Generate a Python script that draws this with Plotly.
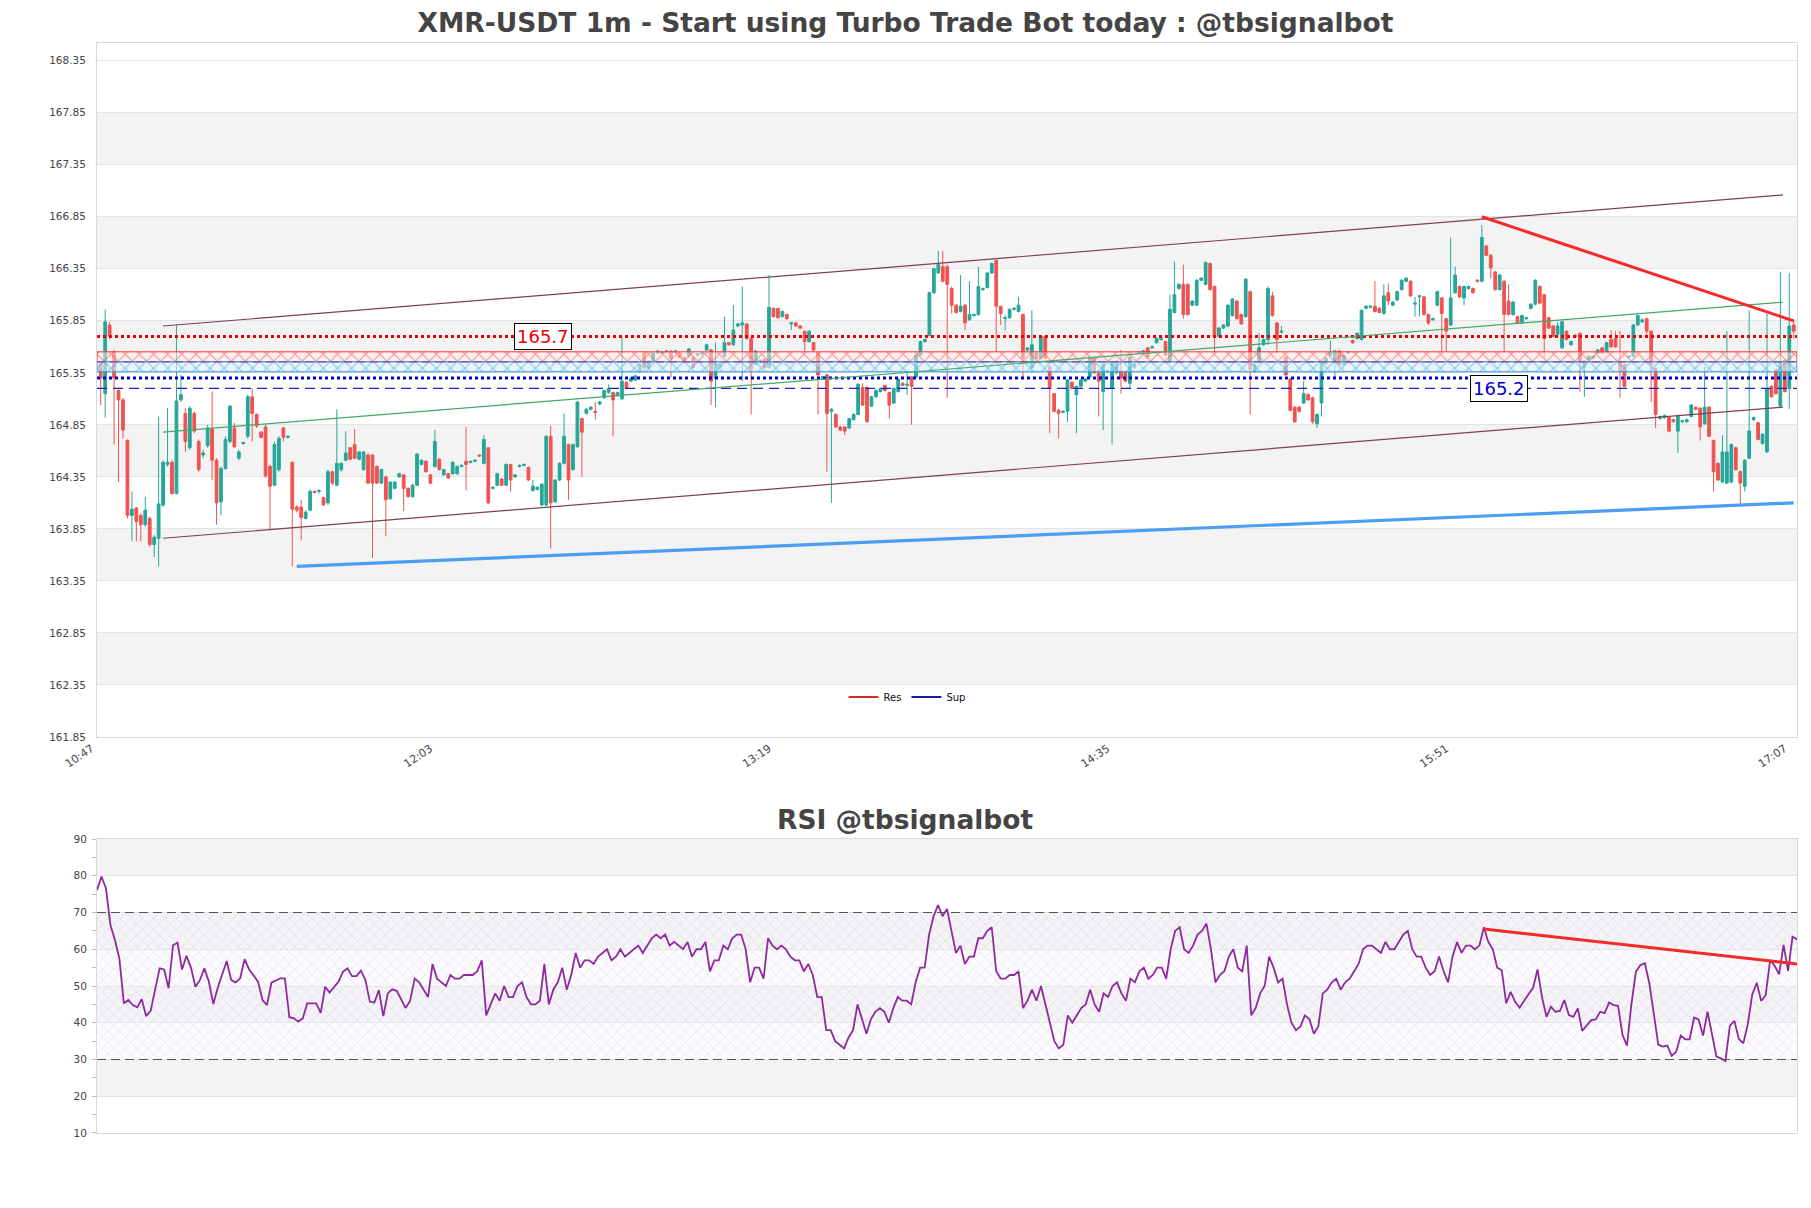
import pandas as pd
import plotly.graph_objects as go

# ---------------- data ----------------
opens = [
    165.44, 165.15, 165.81, 165.55, 165.18, 165.09, 164.70, 163.98, 164.05, 163.98,
    163.89, 163.95, 163.70, 163.76, 164.08, 164.47, 164.49, 164.19, 165.09, 164.96,
    164.63, 164.96, 164.69, 164.56, 164.65, 164.81, 164.51, 164.11, 164.43, 164.69,
    164.82, 164.53, 164.67, 164.74, 165.12, 164.95, 164.78, 164.83, 164.45, 164.27,
    164.42, 164.82, 164.73, 164.49, 164.06, 164.06, 163.95, 164.03, 164.21, 164.21,
    164.15, 164.10, 164.40, 164.27, 164.42, 164.51, 164.63, 164.66, 164.52, 164.42,
    164.56, 164.56, 164.45, 164.29, 164.35, 164.14, 164.24, 164.35, 164.37, 164.24,
    164.16, 164.27, 164.47, 164.50, 164.37, 164.45, 164.52, 164.37, 164.38, 164.38,
    164.38, 164.45, 164.50, 164.49, 164.50, 164.56, 164.48, 164.63, 164.24, 164.27,
    164.33, 164.27, 164.47, 164.35, 164.45, 164.46, 164.44, 164.22, 164.23, 164.08,
    164.08, 164.74, 164.11, 164.32, 164.48, 164.66, 164.42, 164.64, 164.91, 164.96,
    165.00, 164.98, 165.05, 165.11, 165.16, 165.16, 165.13, 165.10, 165.26, 165.27,
    165.28, 165.36, 165.54, 165.40, 165.46, 165.54, 165.54, 165.55, 165.56, 165.55,
    165.54, 165.50, 165.51, 165.50, 165.52, 165.53, 165.57, 165.57, 165.30, 165.41,
    165.51, 165.64, 165.62, 165.80, 165.81, 165.82, 165.68, 165.43, 165.45, 165.48,
    165.40, 165.97, 165.97, 165.89, 165.91, 165.82, 165.83, 165.80, 165.75, 165.65,
    165.64, 165.54, 165.30, 165.33, 164.98, 164.95, 164.83, 164.83, 164.82, 164.90,
    164.95, 165.21, 165.21, 165.03, 165.12, 165.17, 165.23, 165.16, 165.06, 165.17,
    165.25, 165.23, 165.31, 165.31, 165.52, 165.65, 165.71, 166.12, 166.31, 166.37,
    166.37, 166.16, 166.00, 165.94, 166.00, 165.86, 165.90, 165.91, 166.15, 166.17,
    166.31, 166.43, 165.99, 165.87, 165.88, 165.96, 165.94, 165.91, 165.57, 165.40,
    165.54, 165.49, 165.70, 165.41, 165.15, 164.99, 164.97, 164.98, 165.26, 165.14,
    165.22, 165.27, 165.31, 165.50, 165.35, 165.17, 165.36, 165.20, 165.35, 165.37,
    165.36, 165.25, 165.40, 165.54, 165.55, 165.59, 165.59, 165.64, 165.67, 165.65,
    165.46, 165.93, 166.16, 166.20, 166.20, 166.00, 166.00, 166.24, 166.20, 166.40,
    166.18, 165.70, 165.78, 165.80, 165.90, 166.04, 165.91, 165.89, 166.13, 165.36,
    165.46, 165.62, 165.67, 166.09, 165.83, 165.74, 165.50, 165.29, 165.02, 165.02,
    165.06, 165.14, 165.11, 164.86, 165.06, 165.44, 165.52, 165.46, 165.56, 165.43,
    165.54, 165.66, 165.68, 165.67, 165.97, 165.98, 165.99, 165.97, 165.92, 166.12,
    166.00, 166.05, 166.15, 166.23, 166.23, 166.01, 166.08, 166.08, 165.91, 165.86,
    166.00, 166.07, 165.87, 165.81, 166.12, 166.18, 166.07, 166.16, 166.16, 166.24,
    166.23, 166.57, 166.48, 166.32, 166.15, 166.23, 166.04, 165.91, 165.89, 165.83,
    165.87, 165.97, 166.01, 166.18, 166.10, 165.88, 165.80, 165.72, 165.59, 165.75,
    165.62, 165.70, 165.73, 165.40, 165.48, 165.49, 165.54, 165.59, 165.55, 165.67,
    165.68, 165.46, 165.43, 165.50, 165.51, 165.81, 165.84, 165.87, 165.75, 165.39,
    164.91, 164.92, 164.92, 164.90, 164.79, 164.88, 164.88, 164.93, 165.02, 165.01,
    164.86, 165.02, 164.70, 164.48, 164.30, 164.29, 164.30, 164.63, 164.40, 164.26,
    164.53, 164.90, 164.87, 164.67, 164.59, 165.22, 165.38, 165.03, 165.47, 165.20, 165.81,
]
highs = [
    165.46, 165.96, 165.84, 165.57, 165.20, 165.11, 164.71, 164.21, 164.06, 164.00,
    164.16, 163.97, 163.79, 164.93, 164.51, 165.01, 164.51, 165.81, 165.33, 165.01,
    165.03, 164.98, 164.71, 164.61, 164.85, 165.17, 164.53, 164.45, 164.74, 165.04,
    164.87, 164.61, 164.69, 165.14, 165.20, 164.96, 164.79, 164.85, 164.47, 164.69,
    164.74, 164.83, 164.75, 164.50, 164.08, 164.13, 164.03, 164.23, 164.22, 164.23,
    164.16, 164.42, 164.41, 165.00, 164.49, 164.79, 164.63, 164.81, 164.60, 164.60,
    164.58, 164.57, 164.46, 164.43, 164.36, 164.31, 164.31, 164.39, 164.37, 164.25,
    164.28, 164.58, 164.52, 164.51, 164.37, 164.80, 164.53, 164.42, 164.39, 164.50,
    164.46, 164.47, 164.83, 164.50, 164.52, 164.57, 164.75, 164.63, 164.26, 164.39,
    164.34, 164.48, 164.47, 164.37, 164.47, 164.48, 164.45, 164.32, 164.26, 164.29,
    164.75, 164.84, 164.33, 164.49, 164.96, 164.67, 164.67, 165.08, 164.92, 165.01,
    165.03, 165.07, 165.08, 165.19, 165.24, 165.17, 165.17, 165.70, 165.27, 165.31,
    165.33, 165.44, 165.56, 165.47, 165.55, 165.57, 165.56, 165.57, 165.56, 165.57,
    165.55, 165.50, 165.59, 165.50, 165.54, 165.55, 165.63, 165.58, 165.64, 165.45,
    165.89, 165.64, 166.00, 165.83, 166.18, 165.83, 165.69, 165.57, 165.48, 165.49,
    166.29, 165.98, 165.97, 165.95, 165.92, 165.84, 165.84, 165.81, 165.75, 165.76,
    165.65, 165.55, 165.32, 165.34, 165.01, 164.96, 164.84, 164.83, 164.91, 164.96,
    165.25, 165.25, 165.22, 165.13, 165.19, 165.21, 165.23, 165.17, 165.21, 165.30,
    165.26, 165.36, 165.32, 165.53, 165.66, 165.68, 166.13, 166.36, 166.52, 166.52,
    166.39, 166.18, 166.01, 166.29, 166.01, 166.23, 165.92, 166.37, 166.17, 166.32,
    166.41, 166.44, 165.99, 165.91, 165.97, 165.98, 166.08, 165.92, 165.59, 165.95,
    165.55, 165.71, 165.71, 165.42, 165.15, 165.00, 164.99, 165.29, 165.27, 165.23,
    165.29, 165.30, 165.51, 165.51, 165.36, 165.44, 165.38, 165.46, 165.47, 165.57,
    165.37, 165.51, 165.44, 165.56, 165.57, 165.60, 165.61, 165.69, 165.69, 165.65,
    166.10, 166.42, 166.21, 166.39, 166.21, 166.05, 166.25, 166.27, 166.42, 166.41,
    166.19, 165.79, 165.82, 166.01, 166.07, 166.05, 165.92, 166.26, 166.14, 165.44,
    165.73, 165.68, 166.18, 166.13, 165.84, 165.80, 165.51, 165.30, 165.03, 165.03,
    165.27, 165.15, 165.12, 164.96, 165.45, 165.50, 165.66, 165.57, 165.57, 165.53,
    165.56, 165.67, 165.74, 165.96, 166.00, 166.00, 166.23, 165.98, 166.20, 166.21,
    166.04, 166.14, 166.25, 166.27, 166.24, 166.08, 166.09, 166.09, 165.92, 165.88,
    166.14, 166.08, 165.88, 166.65, 166.37, 166.19, 166.19, 166.19, 166.17, 166.25,
    166.77, 166.58, 166.49, 166.33, 166.30, 166.24, 166.20, 166.04, 165.90, 165.91,
    165.89, 166.02, 166.25, 166.19, 166.11, 165.89, 165.81, 165.84, 165.85, 165.76,
    165.66, 165.72, 165.74, 165.47, 165.52, 165.52, 165.58, 165.60, 165.65, 165.76,
    165.75, 165.75, 165.44, 165.52, 165.82, 165.91, 165.87, 165.88, 165.76, 165.40,
    164.94, 164.95, 164.93, 164.91, 164.95, 164.89, 164.91, 165.05, 165.02, 165.02,
    165.41, 165.03, 164.71, 164.49, 164.75, 165.75, 164.67, 164.64, 164.41, 164.52,
    165.95, 164.93, 164.88, 164.77, 165.92, 165.23, 165.39, 166.32, 165.48, 166.31, 165.86,
]
lows = [
    165.04, 164.92, 165.67, 164.66, 164.30, 164.72, 163.95, 163.73, 163.73, 163.73,
    163.87, 163.68, 163.58, 163.49, 164.06, 164.45, 164.18, 164.18, 165.07, 164.59,
    164.61, 164.77, 164.40, 164.53, 164.63, 164.32, 163.89, 163.98, 164.42, 164.67,
    164.63, 164.51, 164.66, 164.72, 164.69, 164.82, 164.72, 164.34, 163.84, 164.26,
    164.40, 164.69, 164.72, 163.49, 164.01, 163.74, 163.94, 164.02, 164.19, 164.19,
    164.07, 164.08, 164.27, 164.26, 164.40, 164.50, 164.51, 164.52, 164.51, 164.41,
    164.28, 163.57, 164.28, 164.28, 163.78, 164.13, 164.23, 164.34, 164.02, 164.15,
    164.15, 164.26, 164.46, 164.39, 164.28, 164.44, 164.41, 164.36, 164.33, 164.37,
    164.37, 164.44, 164.22, 164.48, 164.49, 164.54, 164.47, 164.09, 164.23, 164.26,
    164.26, 164.26, 164.21, 164.34, 164.44, 164.45, 164.31, 164.21, 164.22, 164.07,
    164.07, 163.66, 164.10, 164.31, 164.47, 164.13, 164.41, 164.63, 164.35, 164.95,
    164.99, 164.90, 165.04, 165.10, 165.15, 164.74, 165.12, 165.09, 165.19, 165.26,
    165.27, 165.35, 165.36, 165.39, 165.45, 165.53, 165.53, 165.54, 165.31, 165.54,
    165.49, 165.45, 165.50, 165.39, 165.51, 165.52, 165.56, 165.04, 165.02, 165.40,
    165.50, 165.61, 165.61, 165.79, 165.27, 165.67, 164.95, 165.42, 165.44, 165.39,
    165.39, 165.88, 165.87, 165.88, 165.86, 165.76, 165.79, 165.77, 165.56, 165.64,
    165.56, 164.95, 165.29, 164.40, 164.10, 164.82, 164.79, 164.75, 164.81, 164.89,
    164.94, 165.03, 164.87, 165.02, 165.11, 165.16, 165.17, 164.91, 165.05, 165.16,
    165.22, 165.14, 164.85, 165.30, 165.51, 165.64, 165.70, 166.11, 166.30, 166.22,
    165.11, 165.92, 165.92, 165.93, 165.76, 165.85, 165.89, 165.90, 166.14, 166.16,
    166.30, 165.55, 165.81, 165.76, 165.87, 165.95, 165.93, 165.31, 165.56, 165.35,
    165.48, 165.48, 165.48, 164.77, 164.97, 164.72, 164.96, 164.88, 165.19, 164.77,
    165.21, 165.26, 165.30, 165.34, 164.93, 164.80, 165.35, 164.66, 165.34, 165.15,
    165.26, 165.19, 165.39, 165.53, 165.54, 165.49, 165.58, 165.63, 165.66, 165.51,
    165.45, 165.92, 166.15, 165.87, 165.90, 165.99, 165.99, 166.23, 166.19, 166.14,
    165.55, 165.69, 165.77, 165.79, 165.89, 165.86, 165.81, 165.88, 164.95, 165.35,
    165.45, 165.61, 165.62, 165.89, 165.54, 165.73, 165.32, 164.98, 164.87, 164.97,
    165.05, 165.08, 164.86, 164.82, 164.93, 165.43, 165.51, 165.30, 165.42, 165.42,
    165.53, 165.63, 165.67, 165.66, 165.96, 165.97, 165.93, 165.92, 165.91, 166.00,
    165.99, 166.04, 166.14, 166.22, 166.08, 165.89, 165.89, 165.90, 165.81, 165.85,
    165.99, 165.55, 165.55, 165.80, 166.11, 166.07, 166.00, 166.15, 166.11, 166.22,
    166.22, 166.47, 166.26, 166.14, 166.14, 165.55, 165.90, 165.90, 165.82, 165.82,
    165.86, 165.96, 166.00, 166.01, 165.49, 165.77, 165.69, 165.71, 165.58, 165.66,
    165.61, 165.69, 165.17, 165.12, 165.47, 165.48, 165.53, 165.53, 165.54, 165.59,
    165.59, 165.11, 165.21, 165.50, 165.50, 165.80, 165.83, 165.70, 165.07, 164.82,
    164.90, 164.91, 164.78, 164.87, 164.58, 164.87, 164.87, 164.92, 164.99, 164.70,
    164.85, 164.73, 164.21, 164.31, 164.29, 164.28, 164.29, 164.41, 164.08, 164.21,
    164.52, 164.89, 164.70, 164.66, 164.58, 165.11, 165.14, 165.02, 165.16, 165.00, 165.68,
]
closes = [
    165.30, 165.84, 165.70, 165.30, 165.09, 164.80, 163.98, 164.04, 163.92, 163.89,
    164.03, 163.70, 163.77, 164.09, 164.49, 164.49, 164.19, 165.08, 165.14, 164.69,
    165.01, 164.79, 164.42, 164.58, 164.82, 164.51, 164.10, 164.43, 164.71, 165.03,
    164.64, 164.59, 164.68, 165.12, 164.96, 164.84, 164.73, 164.36, 164.26, 164.66,
    164.72, 164.73, 164.74, 164.04, 164.03, 163.96, 164.01, 164.21, 164.20, 164.22,
    164.08, 164.40, 164.29, 164.48, 164.48, 164.58, 164.52, 164.53, 164.59, 164.59,
    164.29, 164.29, 164.29, 164.42, 164.13, 164.30, 164.30, 164.38, 164.24, 164.16,
    164.27, 164.57, 164.51, 164.40, 164.29, 164.69, 164.42, 164.42, 164.34, 164.49,
    164.45, 164.46, 164.47, 164.50, 164.51, 164.55, 164.71, 164.10, 164.25, 164.38,
    164.27, 164.47, 164.32, 164.37, 164.46, 164.47, 164.32, 164.26, 164.25, 164.28,
    164.74, 164.10, 164.32, 164.48, 164.74, 164.32, 164.66, 165.07, 164.78, 165.00,
    165.02, 164.97, 165.07, 165.18, 165.20, 165.09, 165.16, 165.27, 165.20, 165.30,
    165.32, 165.43, 165.40, 165.46, 165.54, 165.56, 165.55, 165.56, 165.49, 165.56,
    165.50, 165.46, 165.58, 165.40, 165.53, 165.54, 165.62, 165.27, 165.44, 165.44,
    165.64, 165.62, 165.76, 165.82, 165.83, 165.68, 165.38, 165.56, 165.47, 165.40,
    165.98, 165.89, 165.88, 165.94, 165.87, 165.83, 165.80, 165.78, 165.65, 165.75,
    165.57, 165.33, 165.31, 164.96, 165.00, 164.83, 164.80, 164.79, 164.91, 164.95,
    165.24, 165.04, 164.88, 165.12, 165.18, 165.20, 165.18, 165.04, 165.20, 165.29,
    165.23, 165.24, 165.22, 165.52, 165.65, 165.67, 166.12, 166.35, 166.39, 166.23,
    166.20, 166.00, 165.93, 165.99, 165.83, 165.91, 165.91, 166.18, 166.16, 166.31,
    166.40, 165.99, 165.92, 165.88, 165.96, 165.97, 166.00, 165.49, 165.59, 165.62,
    165.49, 165.70, 165.49, 165.20, 164.98, 164.96, 164.98, 165.28, 165.20, 165.22,
    165.28, 165.29, 165.50, 165.35, 165.27, 165.43, 165.37, 165.45, 165.46, 165.30,
    165.27, 165.50, 165.43, 165.55, 165.56, 165.50, 165.60, 165.68, 165.68, 165.52,
    165.96, 166.10, 166.20, 165.91, 165.91, 166.04, 166.24, 166.26, 166.41, 166.15,
    165.70, 165.78, 165.81, 166.00, 166.06, 165.87, 165.82, 166.25, 165.38, 165.43,
    165.59, 165.67, 166.16, 165.90, 165.67, 165.75, 165.33, 164.99, 164.88, 164.98,
    165.15, 165.09, 164.88, 164.95, 165.44, 165.49, 165.55, 165.56, 165.43, 165.52,
    165.55, 165.64, 165.73, 165.95, 165.99, 165.99, 165.94, 165.93, 166.09, 166.04,
    166.03, 166.13, 166.24, 166.26, 166.09, 166.02, 166.09, 165.91, 165.83, 165.87,
    166.13, 165.92, 165.75, 166.07, 166.29, 166.08, 166.18, 166.18, 166.12, 166.23,
    166.65, 166.48, 166.36, 166.15, 166.29, 165.91, 165.91, 166.03, 165.83, 165.90,
    165.88, 166.01, 166.24, 166.02, 165.68, 165.78, 165.70, 165.80, 165.84, 165.67,
    165.65, 165.71, 165.46, 165.46, 165.51, 165.51, 165.57, 165.54, 165.64, 165.60,
    165.60, 165.36, 165.22, 165.51, 165.81, 165.90, 165.86, 165.75, 165.43, 164.95,
    164.93, 164.94, 164.79, 164.88, 164.94, 164.89, 164.90, 165.04, 165.00, 164.83,
    165.02, 164.74, 164.40, 164.32, 164.59, 164.59, 164.66, 164.42, 164.29, 164.51,
    164.79, 164.92, 164.71, 164.76, 165.20, 165.12, 165.15, 165.46, 165.17, 165.80, 165.75,
]
rsi_values = [
    76.1, 79.8, 76.6, 66.6, 62.5, 57.5, 45.3, 46.2, 44.8, 44.2,
    46.4, 41.8, 43.3, 49.4, 54.8, 54.5, 49.4, 61.1, 61.8, 54.5,
    58.2, 55.0, 49.8, 51.6, 54.8, 51.2, 45.1, 49.6, 53.0, 56.8,
    51.6, 51.0, 52.1, 57.3, 54.5, 53.0, 51.2, 46.2, 44.8, 50.9,
    51.6, 52.1, 52.1, 41.5, 41.2, 40.3, 41.2, 45.3, 45.3, 45.3,
    42.7, 49.8, 48.2, 49.6, 51.2, 53.9, 54.8, 52.7, 52.7, 54.2,
    51.6, 45.7, 45.5, 48.9, 41.8, 48.0, 49.1, 48.7, 46.2, 44.0,
    46.0, 52.0, 51.0, 49.0, 47.0, 56.0, 52.0, 51.0, 50.0, 53.0,
    52.0, 52.0, 53.0, 53.0, 53.0, 54.0, 57.0, 42.0, 45.0, 48.0,
    46.0, 50.0, 47.0, 47.0, 50.0, 51.0, 47.0, 45.0, 45.0, 46.0,
    56.0, 45.0, 49.0, 51.0, 55.0, 49.0, 53.0, 59.0, 55.0, 57.0,
    57.0, 56.0, 58.0, 59.0, 60.0, 57.0, 58.0, 60.0, 58.0, 59.0,
    60.0, 61.0, 59.0, 61.0, 63.0, 64.0, 63.0, 64.0, 61.0, 62.0,
    61.0, 60.0, 62.0, 58.0, 60.0, 60.0, 62.0, 54.0, 57.0, 57.0,
    61.0, 60.0, 63.0, 64.0, 64.0, 60.0, 51.0, 55.0, 55.0, 52.0,
    63.0, 61.0, 60.0, 61.0, 60.0, 58.0, 57.0, 57.0, 54.0, 56.0,
    53.0, 47.0, 47.0, 38.0, 38.0, 35.0, 34.0, 33.0, 36.0, 38.0,
    45.0, 41.0, 37.0, 41.0, 43.0, 44.0, 43.0, 40.0, 44.0, 47.0,
    46.0, 46.0, 45.0, 51.0, 55.0, 55.0, 64.0, 69.0, 72.0, 69.0,
    71.0, 65.0, 59.0, 61.0, 56.0, 58.0, 58.0, 63.0, 63.0, 65.0,
    66.0, 54.0, 52.0, 52.0, 53.0, 53.0, 54.0, 44.0, 46.0, 49.0,
    46.0, 50.0, 45.0, 40.0, 35.0, 33.0, 34.0, 42.0, 40.0, 42.0,
    44.0, 45.0, 49.0, 45.0, 43.0, 48.0, 47.0, 50.0, 51.0, 48.0,
    46.0, 52.0, 51.0, 54.0, 55.0, 52.0, 53.0, 55.0, 55.0, 52.0,
    60.0, 65.0, 66.0, 60.0, 59.0, 61.0, 64.0, 65.0, 67.0, 60.0,
    51.0, 53.0, 54.0, 58.0, 60.0, 55.0, 54.0, 61.0, 42.0, 44.0,
    48.0, 50.0, 58.0, 55.0, 51.0, 52.0, 45.0, 40.0, 38.0, 39.0,
    42.0, 41.0, 37.0, 39.0, 48.0, 49.0, 51.0, 52.0, 49.0, 51.0,
    52.0, 54.0, 56.0, 60.0, 61.0, 61.0, 60.0, 59.0, 62.0, 60.0,
    60.0, 62.0, 64.0, 65.0, 60.0, 58.0, 58.0, 55.0, 53.0, 54.0,
    58.0, 54.0, 51.0, 58.0, 62.0, 59.0, 61.0, 61.0, 60.0, 61.0,
    66.0, 62.0, 60.0, 55.0, 54.3, 45.3, 48.4, 45.7, 44.1, 46.0,
    47.8, 49.5, 54.5, 47.0, 41.6, 44.4, 43.0, 43.2, 46.2, 42.1,
    41.6, 43.9, 37.8, 39.3, 40.7, 40.9, 43.0, 42.6, 45.5, 44.8,
    44.6, 36.7, 33.8, 45.2, 53.9, 55.7, 56.2, 50.7, 42.0, 34.0,
    33.5, 33.8, 31.0, 32.1, 36.5, 35.5, 35.5, 41.4, 40.9, 36.5,
    43.0, 37.0, 30.8, 30.3, 29.6, 39.2, 40.5, 35.6, 34.4, 39.6,
    47.7, 50.9, 45.9, 47.5, 57.1, 55.5, 53.2, 61.2, 54.1, 63.4, 62.7,
]

day = "2024-01-01 "
start_time = "10:47"
x_tick_labels = ["10:47", "12:03", "13:19", "14:35", "15:51", "17:07"]
price_ticks = [161.85, 162.35, 162.85, 163.35, 163.85, 164.35, 164.85,
               165.35, 165.85, 166.35, 166.85, 167.35, 167.85, 168.35]
price_bands = [(162.35, 162.85), (163.35, 163.85), (164.35, 164.85),
               (165.35, 165.85), (166.35, 166.85), (167.35, 167.85)]
rsi_bands = [(20, 30), (40, 50), (60, 70), (80, 90)]
x_range = ["10:46:10", "17:07:44"]
y_range = [161.85, 168.52]

# support / resistance levels
res_level = 165.70
res_zone = (165.456, 165.552)
sup_zone = (165.36, 165.456)
zone_mid = 165.456
sup_dotted = 165.30
sup_level = 165.20
res_label_time = "12:26:18"
sup_label_time = "16:00:54"

# trend lines
channel_times = ["11:01:00", "17:04:36"]
upper_channel = [165.80, 167.06]
lower_channel = [163.76, 165.02]
mid_channel = [164.78, 166.03]
support_times = ["11:31:00", "17:07:00"]
support_vals = [163.49, 164.10]
resist_times = ["15:57:00", "17:07:00"]
resist_vals = [166.85, 165.85]
rsi_trend_times = ["15:57:00", "17:07:00"]
rsi_trend_vals = [65.5, 56.0]
rsi_levels = [30, 70]

# ---------------- figure ----------------
n = min(len(opens), len(highs), len(lows), len(closes))
times = pd.date_range(day + start_time, periods=n, freq="min")
rsi_n = min(len(rsi_values), n)
t = lambda s: pd.Timestamp(day + s)

fig = go.Figure()
FONT = "DejaVu Sans"

xr0, xr1 = t(x_range[0]), t(x_range[1])

# hatched zones (main)
fig.add_trace(go.Scatter(
    x=[xr0, xr1, xr1, xr0, xr0],
    y=[res_zone[0], res_zone[0], res_zone[1], res_zone[1], res_zone[0]],
    fill="toself", mode="lines", line=dict(color="#ff3030", width=1),
    fillcolor="rgba(255,240,240,0.5)",
    fillpattern=dict(shape="x", size=10, solidity=0.2, fgcolor="#ff2a2a", fillmode="overlay"),
    showlegend=False, hoverinfo="skip", xaxis="x", yaxis="y"))
fig.add_trace(go.Scatter(
    x=[xr0, xr1, xr1, xr0, xr0],
    y=[sup_zone[0], sup_zone[0], sup_zone[1], sup_zone[1], sup_zone[0]],
    fill="toself", mode="lines", line=dict(color="#2a9be0", width=1),
    fillcolor="rgba(225,245,255,0.6)",
    fillpattern=dict(shape="x", size=10, solidity=0.2, fgcolor="#1a8ee6", fillmode="overlay"),
    showlegend=False, hoverinfo="skip", xaxis="x", yaxis="y"))

# candles
fig.add_trace(go.Candlestick(
    x=times, open=opens[:n], high=highs[:n], low=lows[:n], close=closes[:n],
    increasing=dict(line=dict(color="#26a69a", width=1), fillcolor="#26a69a"),
    decreasing=dict(line=dict(color="#ef5350", width=1), fillcolor="#ef5350"),
    whiskerwidth=0, showlegend=False, hoverinfo="skip", xaxis="x", yaxis="y"))

def hline(y, color, width, dash):
    fig.add_trace(go.Scatter(x=[xr0, xr1], y=[y, y], mode="lines",
                             line=dict(color=color, width=width, dash=dash),
                             showlegend=False, hoverinfo="skip", xaxis="x", yaxis="y"))

hline(res_level, "#ee0000", 3, "dot")
hline(zone_mid, "#7b5ea7", 1.6, "8px,5px")
hline(sup_dotted, "#0000cc", 3, "dot")
hline(sup_level, "#1c1cc8", 1.3, "10px,6px")

def seg(ts, vals, color, width, xa="x", ya="y"):
    fig.add_trace(go.Scatter(x=[t(s) for s in ts], y=vals, mode="lines",
                             line=dict(color=color, width=width),
                             showlegend=False, hoverinfo="skip", xaxis=xa, yaxis=ya))

seg(channel_times, upper_channel, "#7e3f57", 1.2)
seg(channel_times, lower_channel, "#7e3f57", 1.2)
seg(channel_times, mid_channel, "#46a865", 1.2)
seg(support_times, support_vals, "#4a9ff2", 3.2)
seg(resist_times, resist_vals, "#f42a2a", 3)

# legend entries
fig.add_trace(go.Scatter(x=[None], y=[None], mode="lines", name="Res",
                         line=dict(color="#d42a2a", width=2), xaxis="x", yaxis="y"))
fig.add_trace(go.Scatter(x=[None], y=[None], mode="lines", name="Sup",
                         line=dict(color="#1c1ca8", width=2), xaxis="x", yaxis="y"))

# RSI panel
r0, r1 = times[0], times[rsi_n - 1]
fig.add_trace(go.Scatter(
    x=[r0, r1, r1, r0, r0], y=[rsi_levels[0], rsi_levels[0], rsi_levels[1], rsi_levels[1], rsi_levels[0]],
    fill="toself", mode="lines", line=dict(width=0),
    fillcolor="rgba(248,242,250,0.3)",
    fillpattern=dict(shape="x", size=8, solidity=0.1, fgcolor="rgba(185,150,200,0.8)", fillmode="overlay"),
    showlegend=False, hoverinfo="skip", xaxis="x2", yaxis="y2"))
fig.add_trace(go.Scatter(x=times[:rsi_n], y=rsi_values[:rsi_n], mode="lines",
                         line=dict(color="#8e2a9e", width=1.8),
                         showlegend=False, hoverinfo="skip", xaxis="x2", yaxis="y2"))
seg(rsi_trend_times, rsi_trend_vals, "#f42a2a", 3, "x2", "y2")

shapes = []
for lo, hi in price_bands:
    shapes.append(dict(type="rect", xref="x domain", yref="y", x0=0, x1=1, y0=lo, y1=hi,
                       fillcolor="#f3f3f3", line=dict(width=0), layer="below"))
for lo, hi in rsi_bands:
    shapes.append(dict(type="rect", xref="x2 domain", yref="y2", x0=0, x1=1, y0=lo, y1=hi,
                       fillcolor="#f3f3f3", line=dict(width=0), layer="below"))
for lv in rsi_levels:
    shapes.append(dict(type="line", xref="x2 domain", yref="y2", x0=0, x1=1, y0=lv, y1=lv,
                       line=dict(color="#555555", width=1.2, dash="9px,5px"), layer="above"))

annotations = [
    dict(x=t(res_label_time), y=res_level, xref="x", yref="y", text="165.7", showarrow=False,
         font=dict(family=FONT, size=18, color="#ee0000"), bgcolor="white",
         bordercolor="black", borderwidth=1, borderpad=2),
    dict(x=t(sup_label_time), y=sup_level, xref="x", yref="y", text="165.2", showarrow=False,
         font=dict(family=FONT, size=18, color="#0000cc"), bgcolor="white",
         bordercolor="black", borderwidth=1, borderpad=2),
    dict(x=0.4756, y=0.2872, xref="paper", yref="paper", text="<b>RSI @tbsignalbot</b>",
         showarrow=False, xanchor="center", yanchor="middle",
         font=dict(family=FONT, size=26.5, color="#444444")),
]

axis_line = dict(showline=True, mirror=True, linecolor="#d9d9d9", linewidth=1, zeroline=False)

fig.update_layout(
    width=1811, height=1208, autosize=False,
    margin=dict(l=97, r=14, t=43, b=75),
    paper_bgcolor="white", plot_bgcolor="white",
    font=dict(family=FONT, color="#444444"),
    hovermode=False, boxgap=0.12,
    title=dict(text="<b>XMR-USDT 1m - Start using Turbo Trade Bot today : @tbsignalbot</b>",
               x=0.5, xref="container", xanchor="center",
               y=1 - 23 / 1208, yref="container", yanchor="middle",
               font=dict(family=FONT, size=26.5, color="#444444")),
    xaxis=dict(domain=[0, 1], anchor="y", type="date", range=[xr0, xr1],
               tickvals=[t(s) for s in x_tick_labels], ticktext=x_tick_labels,
               tickangle=-34, tickfont=dict(size=11, color="#444444"),
               ticklabelshift=-9,
               showgrid=False, rangeslider=dict(visible=False), **axis_line),
    yaxis=dict(domain=[0.3633, 1.0], anchor="x", range=y_range,
               tickvals=price_ticks, ticktext=[f"{v:.2f}" for v in price_ticks],
               tickfont=dict(size=10.5, color="#444444"), ticklabelstandoff=8,
               showgrid=True, gridcolor="#e3e3e3", gridwidth=1, **axis_line),
    xaxis2=dict(domain=[0, 1], anchor="y2", type="date", range=[r0, r1],
                showticklabels=False, showgrid=False, **axis_line),
    yaxis2=dict(domain=[0, 0.2697], anchor="x2", range=[10, 90],
                tickmode="linear", tick0=10, dtick=10,
                ticks="outside", ticklen=4, tickcolor="#bbbbbb",
                minor=dict(ticks="outside", ticklen=4, dtick=5, tickcolor="#bbbbbb", showgrid=False),
                tickfont=dict(size=10.5, color="#444444"), ticklabelstandoff=3,
                showgrid=True, gridcolor="#e3e3e3", **axis_line),
    legend=dict(orientation="h", x=0.4765, xanchor="center", y=0.40, yanchor="middle",
                font=dict(family=FONT, size=10, color="#111111"), bgcolor="rgba(0,0,0,0)",
                itemwidth=30),
    shapes=shapes, annotations=annotations,
)

fig.write_html("out.html")
